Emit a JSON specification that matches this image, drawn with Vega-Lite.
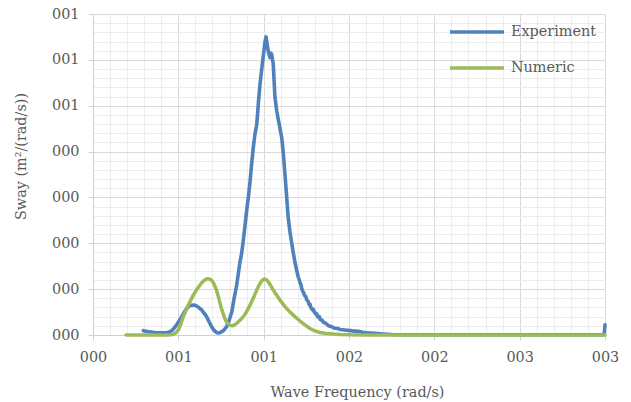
{
  "$schema": "https://vega.github.io/schema/vega-lite/v6.json",
  "width": 512,
  "height": 321,
  "autosize": {"type": "none"},
  "padding": {"left": 93, "top": 14, "right": 26, "bottom": 67},
  "background": "white",
  "config": {
    "view": {"stroke": null},
    "font": "DejaVu Serif",
    "axis": {
      "labelFont": "DejaVu Serif",
      "titleFont": "DejaVu Serif",
      "labelColor": "#595959",
      "titleColor": "#595959",
      "labelFontSize": 14.4,
      "titleFontSize": 14.4,
      "titleFontWeight": "normal",
      "domainColor": "#d0d0d0",
      "tickColor": "#d0d0d0",
      "tickSize": 5,
      "labelFlush": false,
      "labelOverlap": false,
      "labelBound": false
    }
  },
  "data": {
    "values": [
      {"series": "Experiment", "freq": 0.295, "sway": 0.0094},
      {"series": "Experiment", "freq": 0.32, "sway": 0.0075},
      {"series": "Experiment", "freq": 0.35, "sway": 0.006},
      {"series": "Experiment", "freq": 0.373, "sway": 0.005},
      {"series": "Experiment", "freq": 0.4, "sway": 0.0048},
      {"series": "Experiment", "freq": 0.432, "sway": 0.005},
      {"series": "Experiment", "freq": 0.45, "sway": 0.007},
      {"series": "Experiment", "freq": 0.461, "sway": 0.0094},
      {"series": "Experiment", "freq": 0.475, "sway": 0.015},
      {"series": "Experiment", "freq": 0.49, "sway": 0.022},
      {"series": "Experiment", "freq": 0.505, "sway": 0.031},
      {"series": "Experiment", "freq": 0.52, "sway": 0.04},
      {"series": "Experiment", "freq": 0.535, "sway": 0.05},
      {"series": "Experiment", "freq": 0.549, "sway": 0.058},
      {"series": "Experiment", "freq": 0.563, "sway": 0.063},
      {"series": "Experiment", "freq": 0.578, "sway": 0.065},
      {"series": "Experiment", "freq": 0.593, "sway": 0.0655},
      {"series": "Experiment", "freq": 0.608, "sway": 0.063},
      {"series": "Experiment", "freq": 0.622, "sway": 0.059},
      {"series": "Experiment", "freq": 0.637, "sway": 0.0545},
      {"series": "Experiment", "freq": 0.652, "sway": 0.047},
      {"series": "Experiment", "freq": 0.666, "sway": 0.04},
      {"series": "Experiment", "freq": 0.68, "sway": 0.029},
      {"series": "Experiment", "freq": 0.695, "sway": 0.018},
      {"series": "Experiment", "freq": 0.71, "sway": 0.01},
      {"series": "Experiment", "freq": 0.725, "sway": 0.005},
      {"series": "Experiment", "freq": 0.74, "sway": 0.0045},
      {"series": "Experiment", "freq": 0.754, "sway": 0.0072},
      {"series": "Experiment", "freq": 0.768, "sway": 0.011},
      {"series": "Experiment", "freq": 0.783, "sway": 0.018},
      {"series": "Experiment", "freq": 0.798, "sway": 0.032},
      {"series": "Experiment", "freq": 0.813, "sway": 0.05},
      {"series": "Experiment", "freq": 0.827, "sway": 0.08},
      {"series": "Experiment", "freq": 0.842, "sway": 0.109},
      {"series": "Experiment", "freq": 0.852, "sway": 0.135},
      {"series": "Experiment", "freq": 0.861, "sway": 0.159},
      {"series": "Experiment", "freq": 0.871, "sway": 0.178},
      {"series": "Experiment", "freq": 0.881, "sway": 0.207},
      {"series": "Experiment", "freq": 0.891, "sway": 0.24},
      {"series": "Experiment", "freq": 0.901, "sway": 0.273},
      {"series": "Experiment", "freq": 0.91, "sway": 0.3},
      {"series": "Experiment", "freq": 0.92, "sway": 0.334},
      {"series": "Experiment", "freq": 0.93, "sway": 0.375},
      {"series": "Experiment", "freq": 0.939, "sway": 0.408},
      {"series": "Experiment", "freq": 0.949, "sway": 0.438},
      {"series": "Experiment", "freq": 0.959, "sway": 0.458},
      {"series": "Experiment", "freq": 0.964, "sway": 0.48},
      {"series": "Experiment", "freq": 0.969, "sway": 0.506},
      {"series": "Experiment", "freq": 0.978, "sway": 0.545},
      {"series": "Experiment", "freq": 0.988, "sway": 0.578},
      {"series": "Experiment", "freq": 0.995, "sway": 0.6},
      {"series": "Experiment", "freq": 1.002, "sway": 0.621},
      {"series": "Experiment", "freq": 1.008, "sway": 0.64},
      {"series": "Experiment", "freq": 1.014, "sway": 0.65},
      {"series": "Experiment", "freq": 1.02, "sway": 0.635},
      {"series": "Experiment", "freq": 1.027, "sway": 0.618},
      {"series": "Experiment", "freq": 1.032, "sway": 0.612},
      {"series": "Experiment", "freq": 1.037, "sway": 0.605},
      {"series": "Experiment", "freq": 1.042, "sway": 0.615},
      {"series": "Experiment", "freq": 1.047, "sway": 0.612},
      {"series": "Experiment", "freq": 1.052, "sway": 0.6},
      {"series": "Experiment", "freq": 1.056, "sway": 0.592},
      {"series": "Experiment", "freq": 1.061, "sway": 0.555},
      {"series": "Experiment", "freq": 1.066, "sway": 0.519},
      {"series": "Experiment", "freq": 1.076, "sway": 0.49},
      {"series": "Experiment", "freq": 1.086, "sway": 0.469},
      {"series": "Experiment", "freq": 1.096, "sway": 0.45},
      {"series": "Experiment", "freq": 1.106, "sway": 0.43},
      {"series": "Experiment", "freq": 1.116, "sway": 0.392},
      {"series": "Experiment", "freq": 1.125, "sway": 0.349},
      {"series": "Experiment", "freq": 1.135, "sway": 0.3},
      {"series": "Experiment", "freq": 1.144, "sway": 0.255},
      {"series": "Experiment", "freq": 1.154, "sway": 0.225},
      {"series": "Experiment", "freq": 1.164, "sway": 0.201},
      {"series": "Experiment", "freq": 1.174, "sway": 0.178},
      {"series": "Experiment", "freq": 1.184, "sway": 0.157},
      {"series": "Experiment", "freq": 1.194, "sway": 0.14},
      {"series": "Experiment", "freq": 1.203, "sway": 0.126},
      {"series": "Experiment", "freq": 1.213, "sway": 0.115},
      {"series": "Experiment", "freq": 1.218, "sway": 0.11},
      {"series": "Experiment", "freq": 1.223, "sway": 0.102},
      {"series": "Experiment", "freq": 1.228, "sway": 0.096},
      {"series": "Experiment", "freq": 1.233, "sway": 0.093},
      {"series": "Experiment", "freq": 1.238, "sway": 0.088},
      {"series": "Experiment", "freq": 1.242, "sway": 0.085},
      {"series": "Experiment", "freq": 1.247, "sway": 0.084},
      {"series": "Experiment", "freq": 1.252, "sway": 0.077},
      {"series": "Experiment", "freq": 1.257, "sway": 0.075},
      {"series": "Experiment", "freq": 1.262, "sway": 0.072},
      {"series": "Experiment", "freq": 1.267, "sway": 0.066},
      {"series": "Experiment", "freq": 1.272, "sway": 0.067},
      {"series": "Experiment", "freq": 1.276, "sway": 0.06},
      {"series": "Experiment", "freq": 1.281, "sway": 0.058},
      {"series": "Experiment", "freq": 1.286, "sway": 0.055},
      {"series": "Experiment", "freq": 1.291, "sway": 0.056},
      {"series": "Experiment", "freq": 1.296, "sway": 0.05},
      {"series": "Experiment", "freq": 1.301, "sway": 0.049},
      {"series": "Experiment", "freq": 1.306, "sway": 0.045},
      {"series": "Experiment", "freq": 1.311, "sway": 0.046},
      {"series": "Experiment", "freq": 1.316, "sway": 0.04},
      {"series": "Experiment", "freq": 1.321, "sway": 0.039},
      {"series": "Experiment", "freq": 1.326, "sway": 0.04},
      {"series": "Experiment", "freq": 1.331, "sway": 0.034},
      {"series": "Experiment", "freq": 1.34, "sway": 0.033},
      {"series": "Experiment", "freq": 1.35, "sway": 0.028},
      {"series": "Experiment", "freq": 1.36, "sway": 0.026},
      {"series": "Experiment", "freq": 1.369, "sway": 0.024},
      {"series": "Experiment", "freq": 1.38, "sway": 0.02},
      {"series": "Experiment", "freq": 1.399, "sway": 0.018},
      {"series": "Experiment", "freq": 1.414, "sway": 0.015},
      {"series": "Experiment", "freq": 1.428, "sway": 0.0146},
      {"series": "Experiment", "freq": 1.45, "sway": 0.012},
      {"series": "Experiment", "freq": 1.487, "sway": 0.0105},
      {"series": "Experiment", "freq": 1.52, "sway": 0.009},
      {"series": "Experiment", "freq": 1.554, "sway": 0.008},
      {"series": "Experiment", "freq": 1.58, "sway": 0.006},
      {"series": "Experiment", "freq": 1.604, "sway": 0.005},
      {"series": "Experiment", "freq": 1.65, "sway": 0.0035},
      {"series": "Experiment", "freq": 1.701, "sway": 0.0022},
      {"series": "Experiment", "freq": 1.75, "sway": 0.0012},
      {"series": "Experiment", "freq": 1.799, "sway": 0.0007},
      {"series": "Experiment", "freq": 1.9, "sway": 0.0005},
      {"series": "Experiment", "freq": 2.1, "sway": 0.0004},
      {"series": "Experiment", "freq": 2.4, "sway": 0.0004},
      {"series": "Experiment", "freq": 2.7, "sway": 0.0004},
      {"series": "Experiment", "freq": 2.995, "sway": 0.0004},
      {"series": "Experiment", "freq": 3.0, "sway": 0.022},
      {"series": "Numeric", "freq": 0.193, "sway": 0},
      {"series": "Numeric", "freq": 0.3, "sway": 0},
      {"series": "Numeric", "freq": 0.4, "sway": 0},
      {"series": "Numeric", "freq": 0.432, "sway": 0},
      {"series": "Numeric", "freq": 0.455, "sway": 0.0005},
      {"series": "Numeric", "freq": 0.47, "sway": 0.0015},
      {"series": "Numeric", "freq": 0.485, "sway": 0.005},
      {"series": "Numeric", "freq": 0.5, "sway": 0.0109},
      {"series": "Numeric", "freq": 0.515, "sway": 0.024},
      {"series": "Numeric", "freq": 0.529, "sway": 0.04},
      {"series": "Numeric", "freq": 0.544, "sway": 0.053},
      {"series": "Numeric", "freq": 0.558, "sway": 0.065},
      {"series": "Numeric", "freq": 0.573, "sway": 0.076},
      {"series": "Numeric", "freq": 0.588, "sway": 0.087},
      {"series": "Numeric", "freq": 0.607, "sway": 0.099},
      {"series": "Numeric", "freq": 0.627, "sway": 0.109},
      {"series": "Numeric", "freq": 0.642, "sway": 0.116},
      {"series": "Numeric", "freq": 0.656, "sway": 0.12},
      {"series": "Numeric", "freq": 0.668, "sway": 0.1225},
      {"series": "Numeric", "freq": 0.681, "sway": 0.122},
      {"series": "Numeric", "freq": 0.693, "sway": 0.12},
      {"series": "Numeric", "freq": 0.705, "sway": 0.114},
      {"series": "Numeric", "freq": 0.715, "sway": 0.106},
      {"series": "Numeric", "freq": 0.725, "sway": 0.096},
      {"series": "Numeric", "freq": 0.735, "sway": 0.083},
      {"series": "Numeric", "freq": 0.744, "sway": 0.069},
      {"series": "Numeric", "freq": 0.756, "sway": 0.054},
      {"series": "Numeric", "freq": 0.768, "sway": 0.04},
      {"series": "Numeric", "freq": 0.78, "sway": 0.03},
      {"series": "Numeric", "freq": 0.793, "sway": 0.024},
      {"series": "Numeric", "freq": 0.805, "sway": 0.021},
      {"series": "Numeric", "freq": 0.816, "sway": 0.02},
      {"series": "Numeric", "freq": 0.829, "sway": 0.022},
      {"series": "Numeric", "freq": 0.842, "sway": 0.0255},
      {"series": "Numeric", "freq": 0.861, "sway": 0.032},
      {"series": "Numeric", "freq": 0.881, "sway": 0.04},
      {"series": "Numeric", "freq": 0.9, "sway": 0.051},
      {"series": "Numeric", "freq": 0.92, "sway": 0.065},
      {"series": "Numeric", "freq": 0.94, "sway": 0.081},
      {"series": "Numeric", "freq": 0.959, "sway": 0.098},
      {"series": "Numeric", "freq": 0.975, "sway": 0.11},
      {"series": "Numeric", "freq": 0.988, "sway": 0.118},
      {"series": "Numeric", "freq": 1.002, "sway": 0.122},
      {"series": "Numeric", "freq": 1.014, "sway": 0.121},
      {"series": "Numeric", "freq": 1.027, "sway": 0.116},
      {"series": "Numeric", "freq": 1.041, "sway": 0.108},
      {"series": "Numeric", "freq": 1.056, "sway": 0.098},
      {"series": "Numeric", "freq": 1.076, "sway": 0.087},
      {"series": "Numeric", "freq": 1.096, "sway": 0.076},
      {"series": "Numeric", "freq": 1.125, "sway": 0.062},
      {"series": "Numeric", "freq": 1.154, "sway": 0.05},
      {"series": "Numeric", "freq": 1.183, "sway": 0.04},
      {"series": "Numeric", "freq": 1.213, "sway": 0.0305},
      {"series": "Numeric", "freq": 1.242, "sway": 0.022},
      {"series": "Numeric", "freq": 1.271, "sway": 0.0142},
      {"series": "Numeric", "freq": 1.3, "sway": 0.009},
      {"series": "Numeric", "freq": 1.33, "sway": 0.0055},
      {"series": "Numeric", "freq": 1.37, "sway": 0.0035},
      {"series": "Numeric", "freq": 1.408, "sway": 0.0022},
      {"series": "Numeric", "freq": 1.45, "sway": 0.0012},
      {"series": "Numeric", "freq": 1.506, "sway": 0.0005},
      {"series": "Numeric", "freq": 1.6, "sway": 0.0002},
      {"series": "Numeric", "freq": 2.0, "sway": 0.0001},
      {"series": "Numeric", "freq": 2.5, "sway": 0},
      {"series": "Numeric", "freq": 3.0, "sway": 0}
    ]
  },
  "layer": [
    {
      "transform": [{"filter": "datum.series === 'Experiment'"}],
      "mark": {"type": "line", "strokeWidth": 3.6, "strokeJoin": "round", "strokeCap": "round"},
      "encoding": {
        "x": {
          "field": "freq", "type": "quantitative",
          "scale": {"domain": [0, 3], "nice": false, "zero": false},
          "axis": {
            "orient": "bottom", "title": null, "labels": false, "ticks": false, "domain": false,
            "grid": true, "gridColor": "#ededed", "gridWidth": 1,
            "values": [0.1, 0.2, 0.3, 0.4, 0.6, 0.7, 0.8, 0.9, 1.1, 1.2, 1.3, 1.4, 1.6, 1.7, 1.8, 1.9, 2.1, 2.2, 2.3, 2.4, 2.6, 2.7, 2.8, 2.9]
          }
        },
        "y": {
          "field": "sway", "type": "quantitative",
          "scale": {"domain": [0, 0.7], "nice": false},
          "axis": {
            "orient": "left", "title": null, "labels": false, "ticks": false, "domain": false,
            "grid": true, "gridColor": "#ededed", "gridWidth": 1,
            "values": [0.02, 0.04, 0.06, 0.08, 0.12, 0.14, 0.16, 0.18, 0.22, 0.24, 0.26, 0.28, 0.32, 0.34, 0.36, 0.38, 0.42, 0.44, 0.46, 0.48, 0.52, 0.54, 0.56, 0.58, 0.62, 0.64, 0.66, 0.68]
          }
        },
        "color": {
          "field": "series", "type": "nominal",
          "scale": {"domain": ["Experiment", "Numeric"], "range": ["#4F81BD", "#9BBB59"]},
          "legend": {
            "orient": "none", "legendX": 355, "legendY": -11, "title": null, "direction": "vertical",
            "symbolType": "stroke", "symbolSize": 2916, "symbolStrokeWidth": 3.5,
            "labelFont": "DejaVu Serif", "labelFontSize": 14.4, "labelColor": "#595959",
            "labelOffset": 5, "rowPadding": -24
          }
        }
      }
    },
    {
      "transform": [{"filter": "datum.series === 'Numeric'"}],
      "mark": {"type": "line", "strokeWidth": 3.5, "strokeJoin": "round", "strokeCap": "round"},
      "encoding": {
        "x": {
          "field": "freq", "type": "quantitative",
          "scale": {"domain": [0, 3], "nice": false, "zero": false},
          "axis": {
            "orient": "bottom", "title": "Wave Frequency (rad/s)", "format": "03.0f",
            "values": [0, 0.5, 1, 1.5, 2, 2.5, 3],
            "grid": true, "gridColor": "#d9d9d9", "gridWidth": 1,
            "labelPadding": 10, "titleX": 264, "titleY": 50, "titleBaseline": "top"
          }
        },
        "y": {
          "field": "sway", "type": "quantitative",
          "scale": {"domain": [0, 0.7], "nice": false},
          "axis": {
            "orient": "left", "title": "Sway (m²/(rad/s))", "format": "03.0f",
            "values": [0, 0.1, 0.2, 0.3, 0.4, 0.5, 0.6, 0.7],
            "grid": true, "gridColor": "#d9d9d9", "gridWidth": 1,
            "labelPadding": 9, "titleX": -65, "titleY": 142, "titleAngle": 270, "titleBaseline": "bottom"
          }
        },
        "color": {
          "field": "series", "type": "nominal",
          "scale": {"domain": ["Experiment", "Numeric"], "range": ["#4F81BD", "#9BBB59"]},
          "legend": {
            "orient": "none", "legendX": 355, "legendY": -11, "title": null, "direction": "vertical",
            "symbolType": "stroke", "symbolSize": 2916, "symbolStrokeWidth": 3.5,
            "labelFont": "DejaVu Serif", "labelFontSize": 14.4, "labelColor": "#595959",
            "labelOffset": 5, "rowPadding": -24
          }
        }
      }
    }
  ],
  "resolve": {"axis": {"x": "independent", "y": "independent"}}
}
